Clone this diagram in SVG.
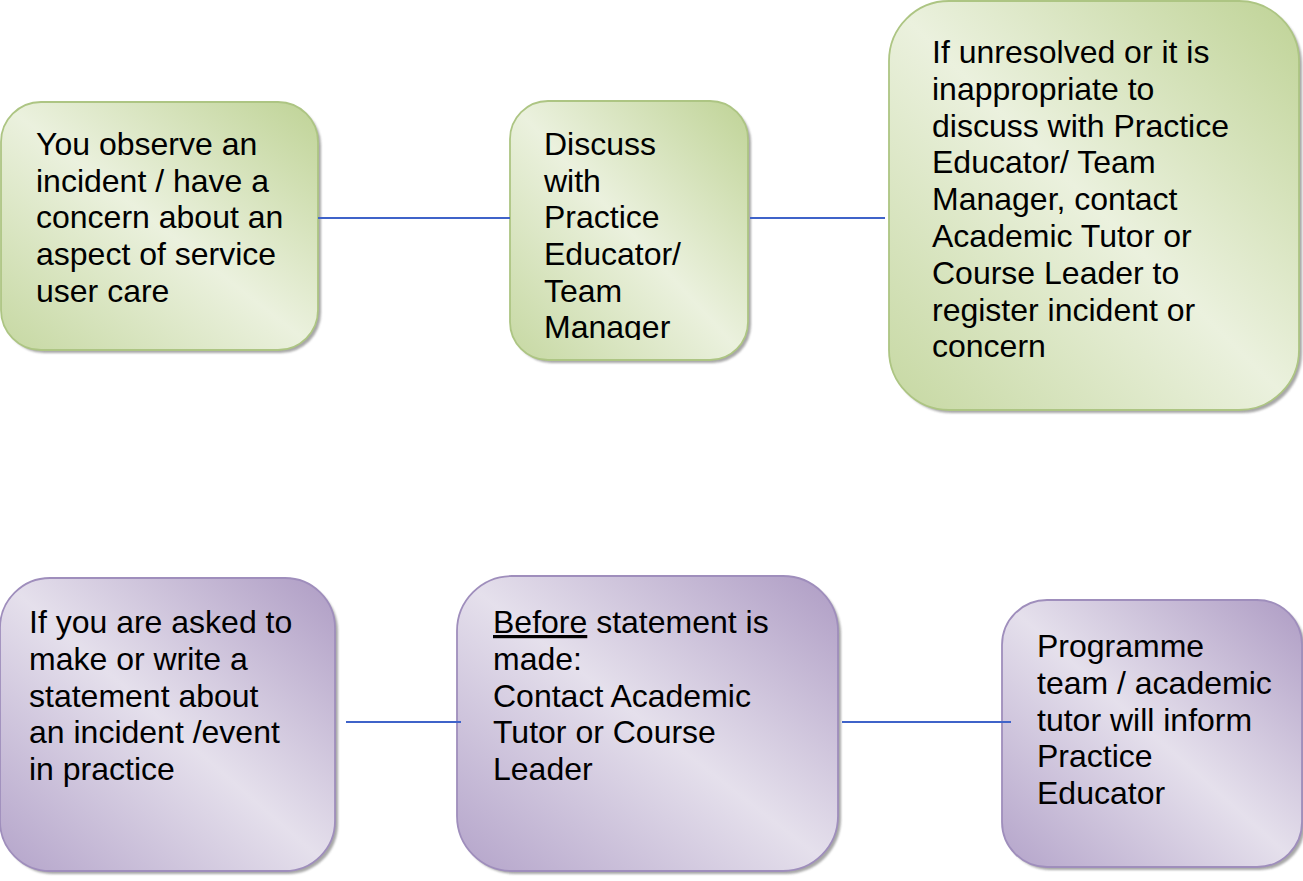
<svg xmlns="http://www.w3.org/2000/svg" width="1303" height="881" viewBox="0 0 1303 881">
<defs>
<linearGradient id="gGreen" x1="1" y1="0" x2="0" y2="1">
<stop offset="0" stop-color="#bfd396"/>
<stop offset="0.5" stop-color="#ebf1de"/>
<stop offset="1" stop-color="#c6d8a2"/>
</linearGradient>
<linearGradient id="gPurple" x1="1" y1="0" x2="0" y2="1">
<stop offset="0" stop-color="#ae9cc4"/>
<stop offset="0.5" stop-color="#e5e0ec"/>
<stop offset="1" stop-color="#b4a4ca"/>
</linearGradient>
<filter id="sh" x="-5%" y="-5%" width="115%" height="115%">
<feGaussianBlur stdDeviation="1.2"/>
</filter>
<clipPath id="clip2"><rect x="510" y="101" width="238" height="239"/></clipPath>
</defs>
<style>
.shadow{fill:#6e6e6e;opacity:0.6;filter:url(#sh)}
.green{fill:url(#gGreen);stroke:#adc583;stroke-width:1.8}
.purple{fill:url(#gPurple);stroke:#9f8ebc;stroke-width:1.8}
.t{font-family:"Liberation Sans",Arial,sans-serif;font-size:32px;fill:#000}
.conn{stroke:#3f63c9;stroke-width:1.8;fill:none}
</style>

<g id="node1">
<rect class="shadow" x="4" y="105" width="317" height="248" rx="40"/>
<rect class="green" x="1" y="102" width="317" height="248" rx="40"/>
<text class="t" x="36"><tspan x="36" y="155">You observe an</tspan><tspan x="36" y="192">incident / have a</tspan><tspan x="36" y="228">concern about an</tspan><tspan x="36" y="265">aspect of service</tspan><tspan x="36" y="302">user care</tspan></text>
</g>

<g id="node2">
<rect class="shadow" x="513" y="104" width="238" height="259" rx="38"/>
<rect class="green" x="510" y="101" width="238" height="259" rx="38"/>
<text class="t" clip-path="url(#clip2)"><tspan x="544" y="155">Discuss</tspan><tspan x="544" y="192">with</tspan><tspan x="544" y="228">Practice</tspan><tspan x="544" y="265">Educator/</tspan><tspan x="544" y="302">Team</tspan><tspan x="544" y="338">Manager</tspan></text>
</g>

<g id="node3">
<rect class="shadow" x="892" y="4" width="410" height="409" rx="60"/>
<rect class="green" x="889" y="1" width="410" height="409" rx="60"/>
<text class="t"><tspan x="932" y="63">If unresolved or it is</tspan><tspan x="932" y="100">inappropriate to</tspan><tspan x="932" y="137">discuss with Practice</tspan><tspan x="932" y="173">Educator/ Team</tspan><tspan x="932" y="210">Manager, contact</tspan><tspan x="932" y="247">Academic Tutor or</tspan><tspan x="932" y="284">Course Leader to</tspan><tspan x="932" y="321">register incident or</tspan><tspan x="932" y="357">concern</tspan></text>
</g>

<g id="node4">
<rect class="shadow" x="3" y="581" width="335" height="293" rx="50"/>
<rect class="purple" x="0" y="578" width="335" height="293" rx="50"/>
<text class="t"><tspan x="29" y="633">If you are asked to</tspan><tspan x="29" y="670">make or write a</tspan><tspan x="29" y="707">statement about</tspan><tspan x="29" y="743">an incident /event</tspan><tspan x="29" y="780">in practice</tspan></text>
</g>

<g id="node5">
<rect class="shadow" x="460" y="579" width="381" height="295" rx="55"/>
<rect class="purple" x="457" y="576" width="381" height="295" rx="55"/>
<text class="t"><tspan x="493" y="633"><tspan text-decoration="underline">Before</tspan> statement is</tspan><tspan x="493" y="670">made:</tspan><tspan x="493" y="707">Contact Academic</tspan><tspan x="493" y="743">Tutor or Course</tspan><tspan x="493" y="780">Leader</tspan></text>
</g>

<g id="node6">
<rect class="shadow" x="1005" y="603" width="300" height="267" rx="45"/>
<rect class="purple" x="1002" y="600" width="300" height="267" rx="45"/>
<text class="t"><tspan x="1037" y="657">Programme</tspan><tspan x="1037" y="694">team / academic</tspan><tspan x="1037" y="731">tutor will inform</tspan><tspan x="1037" y="767">Practice</tspan><tspan x="1037" y="804">Educator</tspan></text>
</g>

<g id="connectors">
<line class="conn" x1="318" y1="218" x2="510" y2="218"/>
<line class="conn" x1="750" y1="218" x2="885" y2="218"/>
<line class="conn" x1="346" y1="722" x2="461" y2="722"/>
<line class="conn" x1="842" y1="722" x2="1011" y2="722"/>
</g>
</svg>
